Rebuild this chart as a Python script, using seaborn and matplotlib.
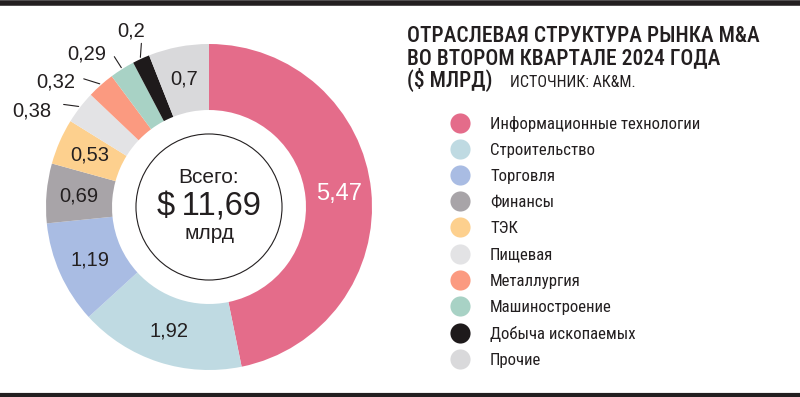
import numpy as np
import seaborn as sns
import matplotlib.pyplot as plt
from matplotlib.lines import Line2D
from matplotlib.patches import Circle

# данные
sectors = ['Информационные технологии', 'Строительство', 'Торговля', 'Финансы', 'ТЭК',
           'Пищевая', 'Металлургия', 'Машиностроение', 'Добыча ископаемых', 'Прочие']
values = [5.47, 1.92, 1.19, 0.69, 0.53, 0.38, 0.32, 0.29, 0.2, 0.7]
value_labels = ['5,47', '1,92', '1,19', '0,69', '0,53', '0,38', '0,32', '0,29', '0,2', '0,7']
colors = ['#E46C8A', '#BFDAE2', '#A9BCE3', '#A8A4A8', '#FDD08E',
          '#E3E3E5', '#FB9A80', '#A8D2C5', '#1E1A1B', '#D9D9DB']

sns.set_theme(style='white')
narrow = ['Roboto Condensed', 'Liberation Sans Narrow', 'DejaVu Sans']
plt.rcParams['font.family'] = ['Liberation Sans', 'DejaVu Sans']
ink = '#231F20'

fig = plt.figure(figsize=(8, 3.97), dpi=100)
W, H = 800, 397
cx, cy, R = 209, 207, 163
ax = fig.add_axes([(cx - R) / W, (H - cy - R) / H, 2 * R / W, 2 * R / H])

wedges, _ = ax.pie(values, colors=colors, startangle=90, counterclock=False,
                   radius=1, wedgeprops=dict(width=0.405, linewidth=0))
ax.set_xlim(-1, 1)
ax.set_ylim(-1, 1)
ax.set_aspect('equal')
ax.axis('off')

# выноски для мелких секторов: (конец линии dx, dy), (текст dx, dy, ha) в пикселях от края сектора
callouts = {
    5: ((-15, 2), (-27, -5, 'right')),
    6: ((-16, 5), (-25, 2, 'right')),
    7: ((-7, 11), (-15, 14, 'right')),
    8: ((1, 14), (-9, 26, 'center')),
}

for i, w in enumerate(wedges):
    ang = np.deg2rad((w.theta1 + w.theta2) / 2)
    dx, dy = np.cos(ang), np.sin(ang)
    if i in callouts:
        (lx, ly), (tx, ty, ha) = callouts[i]
        x0, y0 = dx * 1.01, dy * 1.01
        ax.plot([x0, x0 + lx / R], [y0, y0 + ly / R], color=ink, lw=0.8, clip_on=False)
        ax.text(x0 + tx / R, y0 + ty / R, value_labels[i], ha=ha, va='center',
                fontsize=14.5, color=ink, clip_on=False)
    else:
        c = 'white' if i == 0 else ink
        ax.text(dx * 0.8, dy * 0.8, value_labels[i], ha='center', va='center',
                fontsize=17 if i == 0 else 14.5, color=c)

# центр
ax.add_patch(Circle((0, 0), 0.448, fill=False, ec=ink, lw=0.8))
ax.text(0, 0.178, 'Всего:', ha='center', va='center', fontsize=15, color=ink)
ax.text(0, 0.0, '$\u200911,69', ha='center', va='center', fontsize=23.5, color=ink,
        family=['Liberation Sans', 'DejaVu Sans'])
ax.text(0, -0.165, 'млрд', ha='center', va='center', fontsize=15, color=ink)

# заголовок
for txt, yb in [('ОТРАСЛЕВАЯ СТРУКТУРА РЫНКА M&A', 42),
                ('ВО ВТОРОМ КВАРТАЛЕ 2024 ГОДА', 64),
                ('($ МЛРД)', 87)]:
    fig.text(407 / W, 1 - yb / H, txt, fontsize=15.5, family=narrow, color=ink,
             va='baseline', fontweight='medium')
fig.text(510 / W, 1 - 87 / H, 'ИСТОЧНИК: АК&М.', fontsize=11.5, family=narrow,
         color=ink, va='baseline')

# легенда
handles = [Line2D([], [], marker='o', ls='', markersize=14.5, markerfacecolor=c,
                  markeredgewidth=0) for c in colors]
fig.legend(handles, sectors, loc='upper left', bbox_to_anchor=(443 / W, 1 - 116 / H),
           frameon=False, labelspacing=0.66, handletextpad=0.8, borderaxespad=0,
           borderpad=0, prop=dict(family=narrow, size=12.1), labelcolor=ink)

# линейки сверху и снизу
fig.add_artist(Line2D([0, 1], [1 - 2.5 / H, 1 - 2.5 / H], color=ink, lw=4))
fig.add_artist(Line2D([0, 1], [2 / H, 2 / H], color=ink, lw=3))

fig.savefig('out.png', dpi=100)
